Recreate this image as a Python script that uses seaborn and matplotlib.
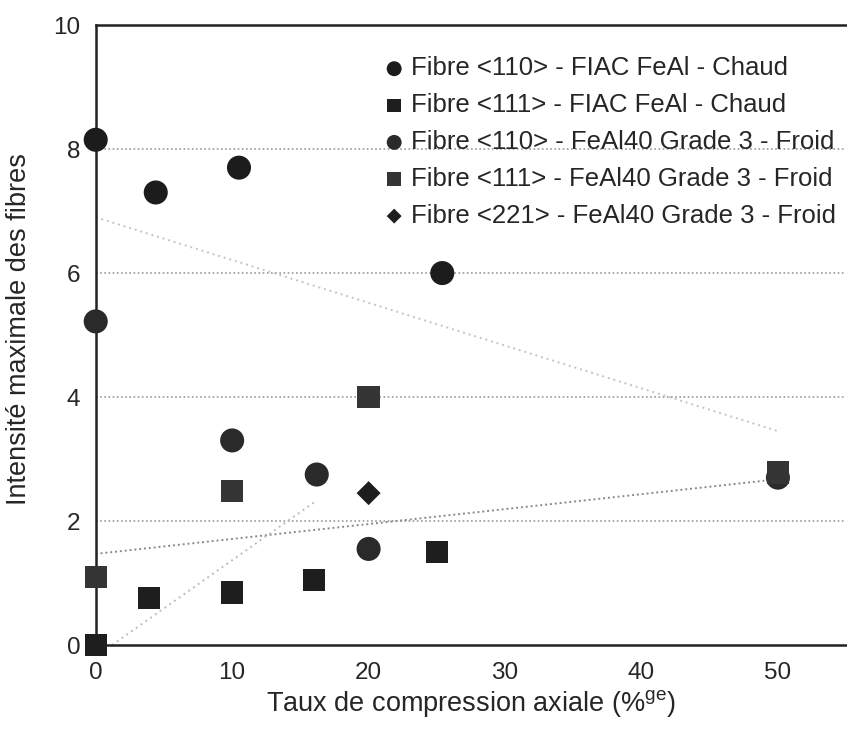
import numpy as np
import pandas as pd
import matplotlib
matplotlib.use("Agg")
import matplotlib.pyplot as plt
import seaborn as sns

# series
fiac_110_x = [0, 4.4, 10.5, 25.4]
fiac_110_y = [8.15, 7.3, 7.7, 6.0]
fiac_111_x = [0, 3.9, 10, 16, 25]
fiac_111_y = [0.0, 0.76, 0.85, 1.05, 1.5]
froid_110_x = [0, 10, 16.2, 20, 50]
froid_110_y = [5.22, 3.3, 2.75, 1.55, 2.7]
froid_111_x = [0, 10, 20, 50]
froid_111_y = [1.1, 2.48, 4.0, 2.78]
froid_221_x = [20]
froid_221_y = [2.45]

labels = ["Fibre <110> - FIAC FeAl - Chaud",
          "Fibre <111> - FIAC FeAl - Chaud",
          "Fibre <110> - FeAl40 Grade 3 - Froid",
          "Fibre <111> - FeAl40 Grade 3 - Froid",
          "Fibre <221> - FeAl40 Grade 3 - Froid"]

# trend lines (end points)
trend_down_x = [0, 50]
trend_down_y = [6.9, 3.45]
trend_up_x = [0, 49]
trend_up_y = [1.47, 2.65]
trend_steep_x = [1.2, 16]
trend_steep_y = [0.0, 2.3]

x_ticks = [0, 10, 20, 30, 40, 50]
y_ticks = [0, 2, 4, 6, 8, 10]

sns.set_style("white")
plt.rcParams['font.family'] = ['Liberation Sans', 'DejaVu Sans']

fig = plt.figure(figsize=(8.47, 7.38), dpi=100)
ax = fig.add_axes([0.113, 0.126, 0.886, 0.84])

for yv in [2, 4, 6, 8]:
    ax.axhline(yv, color="#9a9a9a", lw=1.2, ls=(0, (1, 1.5)), zorder=0)

sns.lineplot(x=trend_down_x, y=trend_down_y, ax=ax, color="#c4c4c4",
             lw=1.4, ls=(0, (1, 2)), zorder=1)
sns.lineplot(x=trend_up_x, y=trend_up_y, ax=ax, color="#8a8a8a",
             lw=1.4, ls=(0, (1, 1.5)), zorder=1)
sns.lineplot(x=trend_steep_x, y=trend_steep_y, ax=ax, color="#bdbdbd",
             lw=1.4, ls=(0, (1, 2)), zorder=1)

series = [
    (fiac_110_x, fiac_110_y, "o", 300, "#1c1c1c"),
    (fiac_111_x, fiac_111_y, "s", 260, "#1e1e1e"),
    (froid_110_x, froid_110_y, "o", 300, "#2a2a2a"),
    (froid_111_x, froid_111_y, "s", 260, "#353535"),
    (froid_221_x, froid_221_y, "D", 150, "#1e1e1e"),
]
for (xs, ys, mk, sz, col), lab in zip(series, labels):
    sns.scatterplot(x=xs, y=ys, ax=ax, marker=mk, s=sz, color=col,
                    edgecolor="none", label=lab, zorder=3, clip_on=False)

ax.set_xlim(0, 55)
ax.set_ylim(0, 10)
ax.set_xticks(x_ticks)
ax.set_yticks(y_ticks)
ax.tick_params(axis="both", labelsize=17.5, length=5, width=1.2,
               direction="out", color="#222222", pad=6)
ax.tick_params(axis="x", pad=7)
for side in ["left", "bottom", "top"]:
    ax.spines[side].set_color("#222222")
    ax.spines[side].set_linewidth(1.8)
ax.spines["right"].set_visible(False)

ax.set_xlabel("Taux de compression axiale (%$^{\\mathregular{ge}}$)",
              fontsize=19.5, labelpad=3)
ax.set_ylabel("Intensité maximale des fibres", fontsize=19.5, labelpad=8)
ax.yaxis.set_label_coords(-0.085, 0.51)

leg = ax.legend(loc="upper right", bbox_to_anchor=(1.0, 0.966), frameon=False,
                fontsize=18.5, handletextpad=0.25, handlelength=0.8,
                labelspacing=0.5, borderaxespad=0.0, markerscale=0.62)

fig.savefig("out.png", dpi=100)
